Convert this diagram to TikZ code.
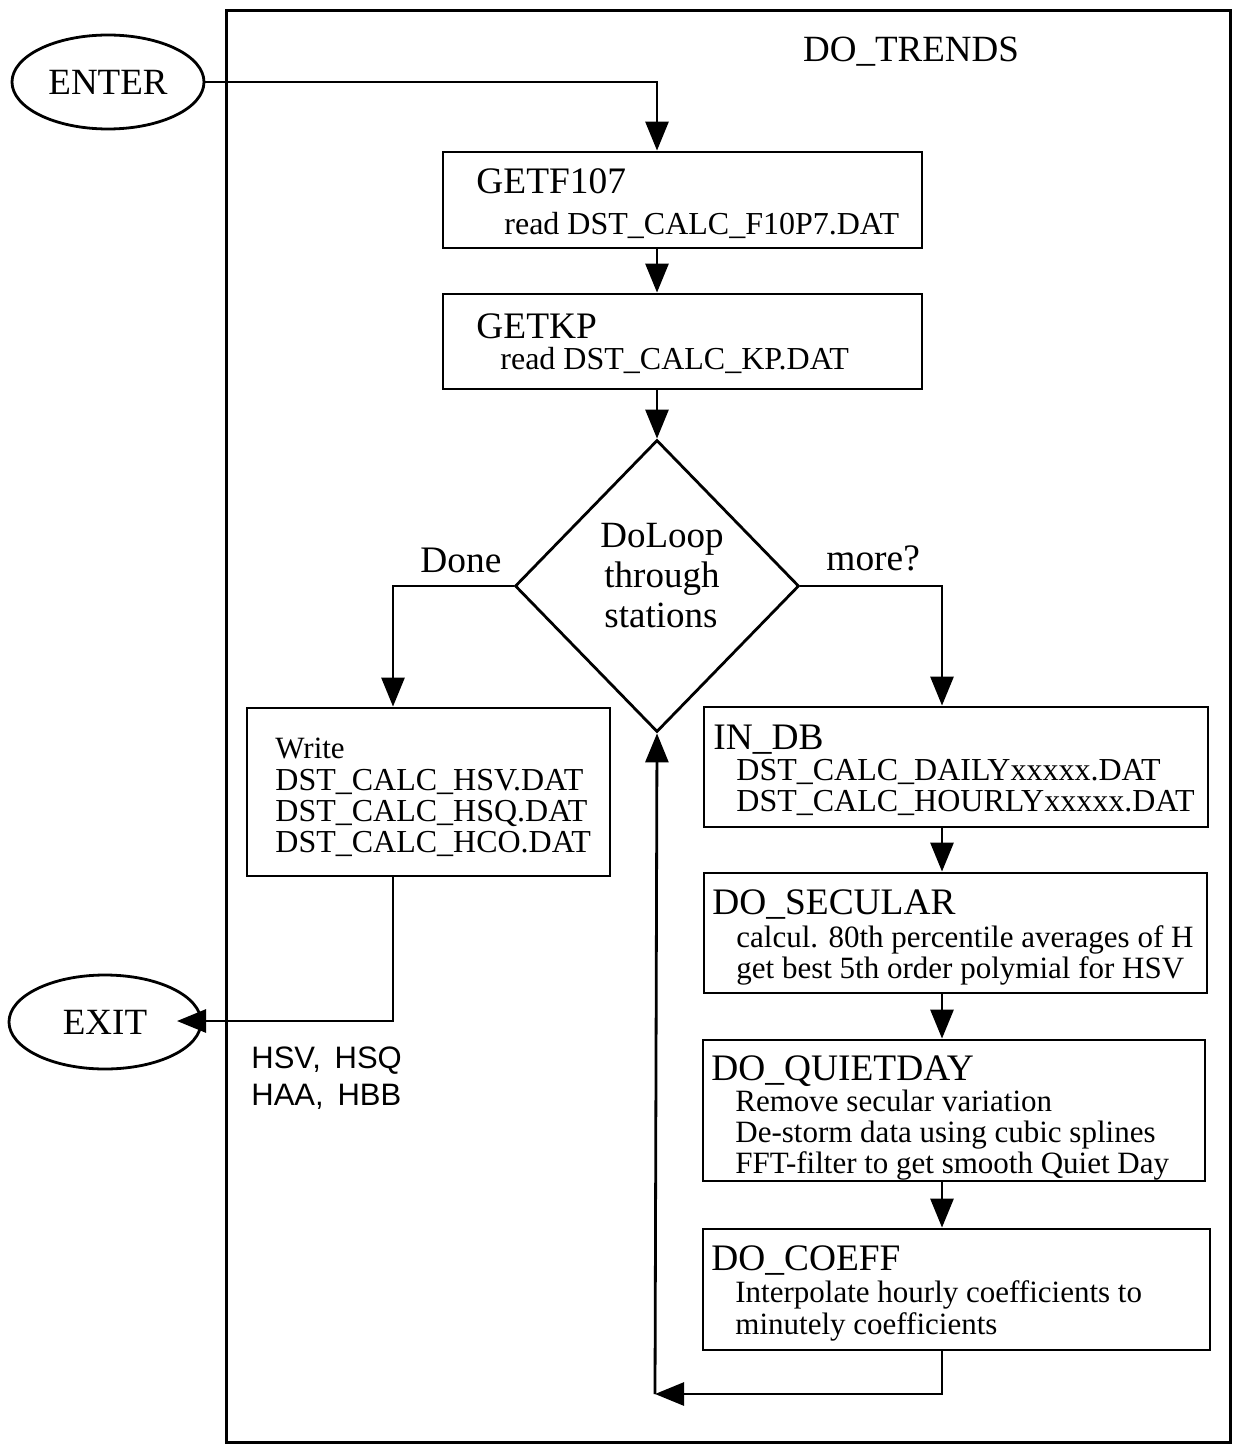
\documentclass[tikz,border=0pt]{standalone}
\usepackage{fontspec}
\setmainfont{Liberation Serif}
\newfontfamily\sansf{Liberation Sans}
\usetikzlibrary{arrows.meta,shapes.geometric}
\tikzset{
  ln/.style={line width=1.4pt},
  arr/.style={ln,-{Triangle[length=14.5pt,width=11.5pt]}},
  box/.style={draw,ln,inner sep=0pt,rectangle},
  oval/.style={draw,ln,ellipse,inner sep=0pt,minimum width=96pt,minimum height=47pt,font=\fontsize{18.5}{20}\selectfont},
  ttl/.style={anchor=base west,inner sep=0pt,font=\fontsize{18.7}{20}\selectfont},
  sub/.style={anchor=base west,inner sep=0pt,font=\fontsize{15.5}{17}\selectfont},
  dst/.style={anchor=base west,inner sep=0pt,font=\fontsize{16}{17}\selectfont},
  big/.style={anchor=base,inner sep=0pt,font=\fontsize{18.5}{20}\selectfont},
  sans/.style={anchor=base west,inner sep=0pt,font=\sansf\fontsize{15.5}{17}\selectfont},
}
\begin{document}
\begin{tikzpicture}[x=0.5pt,y=-0.5pt]
\useasboundingbox (0,0) rectangle (1233,1444);
% outer frame
\draw[line width=1.5pt] (226,11) rectangle (1230,1442);
\node[big] (title) at (911,62) {DO\_TRENDS};

% terminals
\node[oval] (enter) at (108,82) {ENTER};
\node[oval] (exit) at (105,1022) {EXIT};

% boxes
\node[box,minimum width=239.5pt,minimum height=48pt] (getf) at (682.5,200) {};
\node[box,minimum width=239.5pt,minimum height=47.5pt] (getkp) at (682.5,341.5) {};
\node[draw,ln,diamond,inner sep=0pt,minimum width=142pt,minimum height=146pt] (dia) at (657,586) {};
\node[box,minimum width=181.5pt,minimum height=84pt] (write) at (428.5,792) {};
\node[box,minimum width=252pt,minimum height=60pt] (indb) at (956,767) {};
\node[box,minimum width=251.5pt,minimum height=60pt] (secular) at (955.5,933) {};
\node[box,minimum width=251pt,minimum height=70.5pt] (quiet) at (954,1110.5) {};
\node[box,minimum width=253.5pt,minimum height=60.5pt] (coeff) at (956.5,1289.5) {};

% texts
\node[ttl] (t1) at (476,194) {GETF107};
\node[dst] (t1a) at (504,235) {read DST\_CALC\_F10P7.DAT};
\node[ttl] (t2) at (476,339) {GETKP};
\node[dst] (t2a) at (500,370) {read DST\_CALC\_KP.DAT};
\node[big] (d1) at (662,547) {DoLoop};
\node[big] (d2) at (662,587) {through};
\node[big] (d3) at (661,627) {stations};
\node[ttl] (done) at (420,572) {Done};
\node[ttl] (more) at (826,570) {more?};
\node[sub] (w0) at (275,758) {Write};
\node[dst] (w1) at (275,790) {DST\_CALC\_HSV.DAT};
\node[dst] (w2) at (275,821) {DST\_CALC\_HSQ.DAT};
\node[dst] (w3) at (275,852) {DST\_CALC\_HCO.DAT};
\node[ttl] (t3) at (713,749) {IN\_DB};
\node[dst] (t3a) at (736,780) {DST\_CALC\_DAILYxxxxx.DAT};
\node[dst] (t3b) at (736,811) {DST\_CALC\_HOURLYxxxxx.DAT};
\node[ttl] (t4) at (712,914) {DO\_SECULAR};
\node[sub] (t4a) at (736,947) {calcul. 80th percentile averages of H};
\node[sub] (t4b) at (736,978) {get best 5th order polymial for HSV};
\node[ttl] (t5) at (711,1080) {DO\_QUIETDAY};
\node[sub] (t5a) at (735,1111) {Remove secular variation};
\node[sub] (t5b) at (735,1142) {De-storm data using cubic splines};
\node[sub] (t5c) at (735,1173) {FFT-filter to get smooth Quiet Day};
\node[ttl] (t6) at (711,1270) {DO\_COEFF};
\node[sub] (t6a) at (735,1302) {Interpolate hourly coefficients to};
\node[sub] (t6b) at (735,1334) {minutely coefficients};
\node[sans] (h1) at (251,1068) {HSV,\, HSQ};
\node[sans] (h2) at (251,1105) {HAA,\, HBB};

% helper coordinates
\coordinate (lx) at (393,0);
\coordinate (rx) at (942,0);
\coordinate (loopc) at (655,1394);
\coordinate (exittip) at (177,1021);

% connectors
\draw[arr] (enter.east) -| (getf.north -| dia.north);
\draw[arr] (getf.south -| dia.north) -- (getkp.north -| dia.north);
\draw[arr] (getkp.south -| dia.north) -- (dia.north);
\draw[arr] (dia.west) -| (write.north -| lx);
\draw[arr] (dia.east) -| (indb.north -| rx);
\draw[arr] (indb.south -| rx) -- (secular.north -| rx);
\draw[arr] (secular.south -| rx) -- (quiet.north -| rx);
\draw[arr] (quiet.south -| rx) -- (coeff.north -| rx);
\draw[arr] (coeff.south -| rx) |- (loopc);
\draw[arr] (loopc) -- (dia.south);
\draw[arr] (write.south -| lx) |- (exittip);
\end{tikzpicture}
\end{document}
